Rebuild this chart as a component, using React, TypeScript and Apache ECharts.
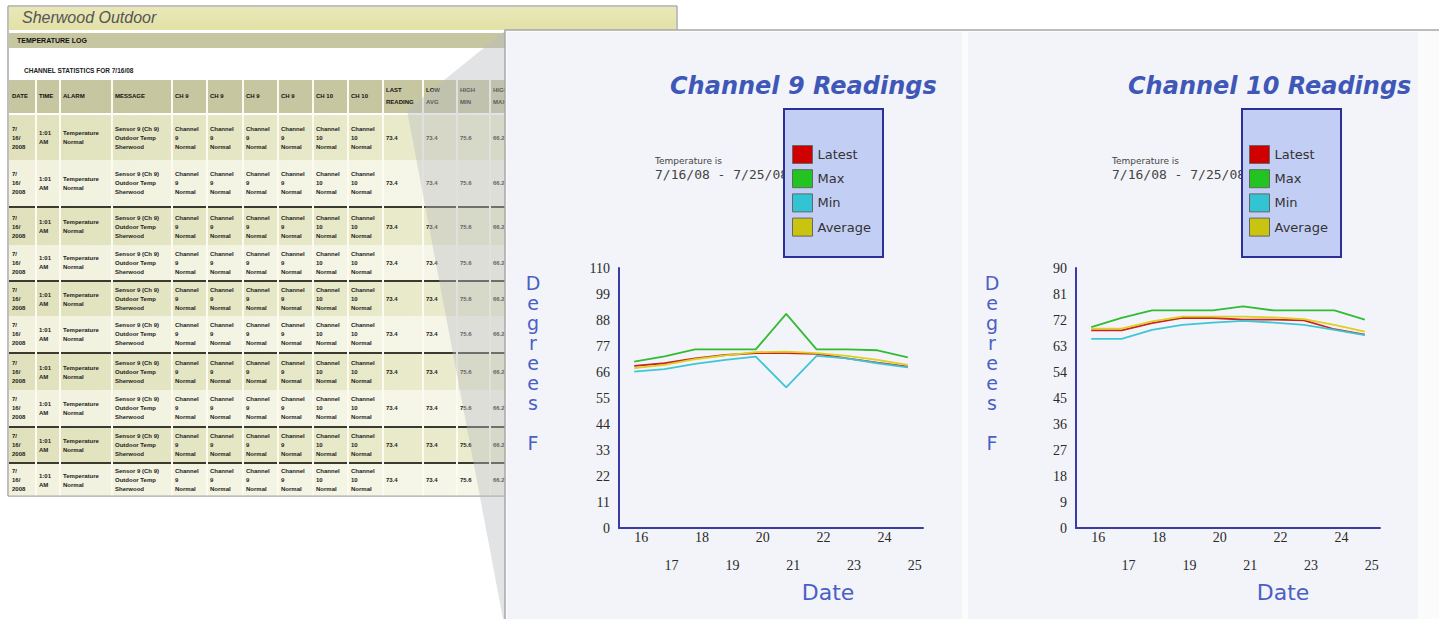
import React, { useEffect, useRef } from "react";
import * as echarts from "echarts";

// ---- chart data ----
const days = ["16", "17", "18", "19", "20", "21", "22", "23", "24", "25"];
const seriesNames = ["Latest", "Max", "Min", "Average"];
const seriesColors = ["#cc2222", "#33bb33", "#3fc6d6", "#ddd020"];
const iconColors = ["#d00000", "#22c422", "#33c4d4", "#c8c410"];

const ch9Latest = [68.6, 69.7, 71.8, 73.2, 74.0, 74.0, 73.7, 71.8, 70.0, 68.3];
const ch9Max = [70.4, 72.6, 75.6, 75.6, 75.6, 90.6, 75.6, 75.6, 75.2, 72.2];
const ch9Min = [66.2, 67.2, 69.4, 71.1, 72.5, 59.5, 72.8, 71.8, 69.7, 68.0];
const ch9Avg = [67.6, 69.0, 71.4, 73.0, 74.4, 74.6, 74.0, 72.8, 71.1, 69.0];

const ch10Latest = [68.4, 68.4, 70.9, 72.7, 72.7, 72.1, 72.1, 71.9, 68.8, 66.9];
const ch10Max = [69.5, 72.7, 75.3, 75.3, 75.3, 76.7, 75.3, 75.3, 75.3, 72.1];
const ch10Min = [65.5, 65.5, 68.6, 70.3, 71.1, 71.7, 71.1, 70.3, 68.6, 66.8];
const ch10Avg = [69.0, 69.0, 71.5, 73.2, 73.2, 73.2, 72.9, 72.3, 70.3, 68.0];

const ch9Title = "Channel 9 Readings";
const ch10Title = "Channel 10 Readings";
const rangeCaption = "Temperature is";
const rangeText = "7/16/08 - 7/25/08";
const yNameLetters = ["D", "e", "g", "r", "e", "e", "s", "", "F"];

// ---- background report (decoration) ----
const reportTitle = "Sherwood Outdoor";
const reportBar = "TEMPERATURE LOG";
const reportSub = "CHANNEL STATISTICS FOR 7/16/08";
const tableCols = [9, 36, 60, 112, 172, 207, 243, 278, 313, 348, 383, 423, 457, 490, 530];
const headerLabels = ["DATE", "TIME", "ALARM", "MESSAGE", "CH 9", "CH 9", "CH 9", "CH 9", "CH 10", "CH 10", "LAST\nREADING", "LOW\nAVG", "HIGH\nMIN", "HIGH\nMAX"];
const tableRows = [[115, 160], [160, 206], [208, 245], [245, 280], [282, 316], [316, 352], [354, 390], [390, 426], [428, 462], [464, 496]];
const thickAfter = [1, 3, 5, 7, 8];
const cellTexts = [
  "7/\n16/\n2008", "1:01\nAM", "Temperature\nNormal", "Sensor 9 (Ch 9)\nOutdoor Temp\nSherwood",
  "Channel\n9\nNormal", "Channel\n9\nNormal", "Channel\n9\nNormal", "Channel\n9\nNormal",
  "Channel\n10\nNormal", "Channel\n10\nNormal", "73.4", "73.4", "75.6", "66.2",
];

function buildBackground(): any[] {
  const els: any[] = [];
  els.push({ type: "rect", z: -20, shape: { x: 8, y: 6, width: 669, height: 490 }, style: { fill: "#ffffff", stroke: "#aaaaaa", lineWidth: 1 } });
  els.push({
    type: "rect", z: -19, shape: { x: 9, y: 7, width: 667, height: 23 },
    style: { fill: new echarts.graphic.LinearGradient(0, 0, 0, 1, [{ offset: 0, color: "#e9e7b6" }, { offset: 1, color: "#e3e1a8" }]) },
  });
  els.push({ type: "text", z: -18, style: { text: reportTitle, x: 22, y: 17, verticalAlign: "middle", font: "italic 16px 'Liberation Sans'", fill: "#555" } });
  els.push({ type: "rect", z: -19, shape: { x: 9, y: 33, width: 667, height: 15 }, style: { fill: "#c6c6a0" } });
  els.push({ type: "text", z: -18, style: { text: reportBar, x: 17, y: 40.5, verticalAlign: "middle", font: "bold 7px 'Liberation Sans'", fill: "#111" } });
  els.push({ type: "text", z: -18, style: { text: reportSub, x: 24, y: 70, verticalAlign: "middle", font: "bold 6.5px 'Liberation Sans'", fill: "#222" } });
  els.push({ type: "rect", z: -19, shape: { x: 9, y: 80, width: 520, height: 33 }, style: { fill: "#c6c6a0" } });
  for (let c = 0; c < tableCols.length - 1; c++) {
    els.push({ type: "text", z: -18, style: { text: headerLabels[c], x: tableCols[c] + 3, y: 96, verticalAlign: "middle", font: "bold 6px 'Liberation Sans'", fill: "#111", lineHeight: 12 } });
  }
  tableRows.forEach((r, i) => {
    const fill = i % 2 === 0
      ? new echarts.graphic.LinearGradient(0, 0, 1, 0, [{ offset: 0, color: "#e0e1bc" }, { offset: 1, color: "#ecedcf" }])
      : new echarts.graphic.LinearGradient(0, 0, 1, 0, [{ offset: 0, color: "#f1f1de" }, { offset: 1, color: "#f7f7ea" }]);
    els.push({ type: "rect", z: -19, shape: { x: 9, y: r[0], width: 520, height: r[1] - r[0] }, style: { fill } });
    for (let c = 0; c < tableCols.length - 1; c++) {
      els.push({ type: "text", z: -18, style: { text: cellTexts[c], x: tableCols[c] + 3, y: (r[0] + r[1]) / 2, verticalAlign: "middle", font: "bold 6px 'Liberation Sans'", fill: "#222", lineHeight: 9 } });
    }
    if (thickAfter.indexOf(i) >= 0) {
      els.push({ type: "line", z: -17, shape: { x1: 9, y1: r[1] + 1, x2: 529, y2: r[1] + 1 }, style: { stroke: "#3a3a30", lineWidth: 2 } });
    }
  });
  for (let c = 1; c < tableCols.length - 1; c++) {
    els.push({ type: "line", z: -17, shape: { x1: tableCols[c], y1: 80, x2: tableCols[c], y2: 496 }, style: { stroke: "#fbfbf2", lineWidth: 2 } });
  }
  els.push({ type: "rect", z: -16, shape: { x: 8, y: 6, width: 669, height: 490 }, style: { fill: "none", stroke: "#aaaaaa", lineWidth: 1 } });
  els.push({ type: "polygon", z: -15, shape: { points: [[407, 110], [506, 30], [506, 619], [503, 619]] }, style: { fill: "rgba(185,188,192,0.42)" } });
  els.push({ type: "rect", z: -14, shape: { x: 505, y: 30, width: 940, height: 600 }, style: { fill: "#fbfbfc", stroke: "#a8a8a8", lineWidth: 1.5 } });
  els.push({ type: "rect", z: -13, shape: { x: 507, y: 32, width: 455, height: 600 }, style: { fill: "#f3f4f9" } });
  els.push({ type: "rect", z: -13, shape: { x: 968, y: 32, width: 450, height: 600 }, style: { fill: "#f3f4f9" } });
  return els;
}

function chartDecor(titleText: string, titleX: number, capX: number, boxX: number, yNameX: number, dateX: number): any[] {
  const els: any[] = [
    { type: "text", z: 1, style: { text: titleText, x: titleX, y: 86, verticalAlign: "middle", font: "italic bold 24px 'DejaVu Sans'", fill: "#3f58b8" } },
    { type: "text", z: 1, style: { text: rangeCaption, x: capX, y: 161, verticalAlign: "middle", font: "9px 'DejaVu Sans'", fill: "#444" } },
    { type: "text", z: 1, style: { text: rangeText, x: capX, y: 174, verticalAlign: "middle", font: "13px 'DejaVu Sans Mono'", fill: "#444" } },
    { type: "rect", z: 1.5, shape: { x: boxX, y: 109, width: 99, height: 148 }, style: { fill: "#c3cef5", stroke: "#2b2f96", lineWidth: 2 } },
    { type: "text", z: 1, style: { text: "Date", x: dateX, y: 592, align: "center", verticalAlign: "middle", font: "22px 'DejaVu Sans'", fill: "#4a5fc4" } },
  ];
  yNameLetters.forEach((ch, i) => {
    if (!ch) return;
    els.push({ type: "text", z: 1, style: { text: ch, x: yNameX, y: 283 + i * 20, align: "center", verticalAlign: "middle", font: "19px 'DejaVu Sans'", lineHeight: 19, fill: "#4a5fc4" } });
  });
  return els;
}

const axisLine = { show: true, lineStyle: { color: "#3b3ba8", width: 2 } };

function xAxis(gridIndex: number) {
  return {
    type: "category", gridIndex, data: days, boundaryGap: true,
    axisLine, axisTick: { show: false }, splitLine: { show: false },
    axisLabel: {
      interval: 0, align: "left", margin: 2, fontSize: 14, lineHeight: 14,
      fontFamily: "'Liberation Serif'", color: "#2a2a2a",
      formatter: (v: string, i: number) => (i % 2 === 1 ? "\n\n" + v : v),
    },
  };
}
function yAxis(gridIndex: number, max: number, interval: number) {
  return {
    type: "value", gridIndex, min: 0, max, interval,
    axisLine, axisTick: { show: false }, splitLine: { show: false },
    axisLabel: { margin: 9, fontSize: 14, fontFamily: "'Liberation Serif'", color: "#2a2a2a" },
  };
}
function legend(left: number) {
  return {
    orient: "vertical", left, top: 145, padding: 0, itemWidth: 20, itemHeight: 18, itemGap: 5.2, icon: "rect",
    textStyle: { fontFamily: "'DejaVu Sans'", fontSize: 13, color: "#333" },
    selectedMode: false,
    data: seriesNames.map((n, i) => ({ name: n, itemStyle: { color: iconColors[i], borderColor: "#666", borderWidth: 1 } })),
  };
}
function lines(idx: number, values: number[][]) {
  return values.map((d, i) => ({
    type: "line", name: seriesNames[i], xAxisIndex: idx, yAxisIndex: idx, data: d,
    symbol: "none", lineStyle: { width: 1.8, color: seriesColors[i] }, itemStyle: { color: seriesColors[i] },
  }));
}

export default function App() {
  const ref = useRef<HTMLDivElement>(null);
  useEffect(() => {
    if (!ref.current) return;
    const chart = echarts.init(ref.current, undefined, { renderer: "svg" });
    chart.setOption({
      animation: false,
      backgroundColor: "#ffffff",
      grid: [
        { left: 619, right: 1439 - 923, top: 268, bottom: 619 - 528 },
        { left: 1076, right: 1439 - 1380, top: 268, bottom: 619 - 528 },
      ],
      xAxis: [xAxis(0), xAxis(1)],
      yAxis: [yAxis(0, 110, 11), yAxis(1, 90, 9)],
      legend: [legend(792), legend(1249)],
      graphic: {
        elements: [
          ...buildBackground(),
          ...chartDecor(ch9Title, 670, 655, 784, 533, 828),
          ...chartDecor(ch10Title, 1128, 1112, 1242, 992, 1283),
        ],
      },
      series: [
        ...lines(0, [ch9Latest, ch9Max, ch9Min, ch9Avg]),
        ...lines(1, [ch10Latest, ch10Max, ch10Min, ch10Avg]),
      ],
    });
    return () => chart.dispose();
  }, []);
  return <div ref={ref} style={{ position: "absolute", left: 0, top: 0, width: 1439, height: 619 }} />;
}
